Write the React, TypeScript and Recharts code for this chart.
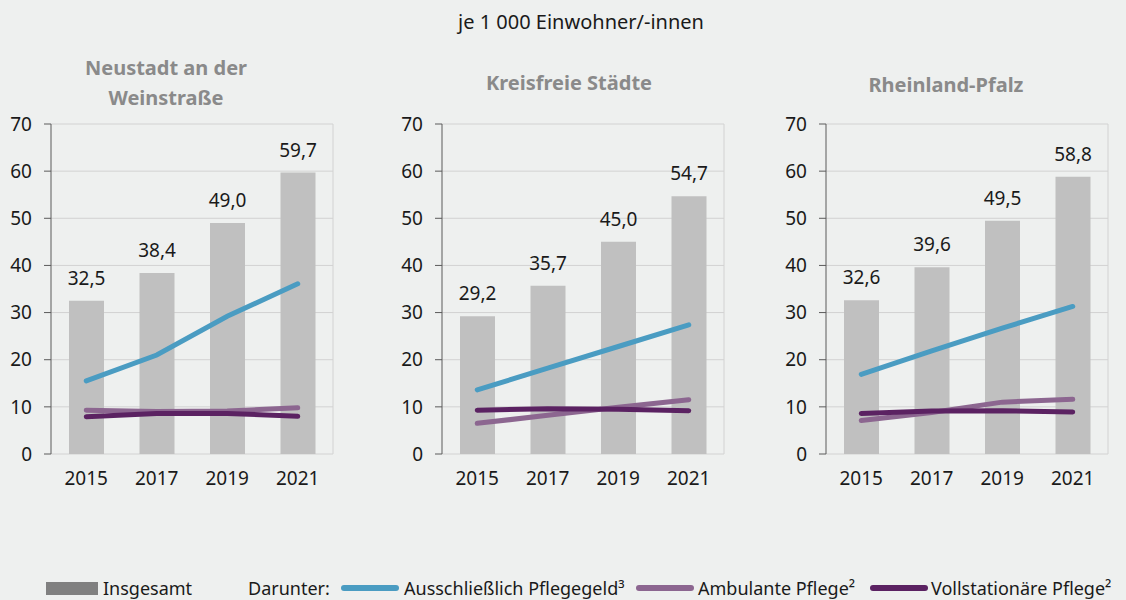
import React from "react";
import {
  Bar,
  CartesianGrid,
  ComposedChart,
  LabelList,
  Line,
  XAxis,
  YAxis,
} from "recharts";

const years = ["2015", "2017", "2019", "2021"];
const yTicks = [0, 10, 20, 30, 40, 50, 60, 70];

const neustadtTotal = [32.5, 38.4, 49.0, 59.7];
const neustadtPflegegeld = [15.5, 21.0, 29.2, 36.1];
const neustadtAmbulant = [9.3, 9.0, 9.1, 9.8];
const neustadtStationaer = [7.9, 8.6, 8.6, 8.0];

const kreisfreiTotal = [29.2, 35.7, 45.0, 54.7];
const kreisfreiPflegegeld = [13.6, 18.2, 22.8, 27.4];
const kreisfreiAmbulant = [6.5, 8.2, 9.9, 11.5];
const kreisfreiStationaer = [9.3, 9.6, 9.5, 9.2];

const rlpTotal = [32.6, 39.6, 49.5, 58.8];
const rlpPflegegeld = [16.9, 21.9, 26.7, 31.3];
const rlpAmbulant = [7.1, 8.8, 11.0, 11.6];
const rlpStationaer = [8.6, 9.1, 9.2, 8.9];

const colors = {
  bg: "#eef0ef",
  bar: "#c0c0c0",
  blue: "#4a9cc2",
  lilac: "#8c6690",
  plum: "#5b2262",
  axis: "#5a5a5a",
  grid: "#d2d2d2",
  text: "#1a1a1a",
  title: "#8a8a8a",
};

const font = "'Noto Sans', sans-serif";

type PanelProps = {
  title: string[];
  total: number[];
  pflegegeld: number[];
  ambulant: number[];
  stationaer: number[];
  left: number;
  titleCenter: number;
  titleTop: number;
};

const fmt = (v: number) => v.toFixed(1).replace(".", ",");

function Panel({ title, total, pflegegeld, ambulant, stationaer, left, titleCenter, titleTop }: PanelProps) {
  const data = years.map((year, i) => ({
    year,
    total: total[i],
    pflegegeld: pflegegeld[i],
    ambulant: ambulant[i],
    stationaer: stationaer[i],
  }));
  const tickStyle = { fontSize: 19, fill: colors.text, fontFamily: font };

  return (
    <>
      <div
        style={{
          position: "absolute",
          left: titleCenter - 150,
          width: 300,
          top: titleTop,
          textAlign: "center",
          color: colors.title,
          fontWeight: 700,
          fontSize: 20,
          lineHeight: "30px",
          fontFamily: font,
        }}
      >
        {title.map((t) => (
          <div key={t}>{t}</div>
        ))}
      </div>
      <div style={{ position: "absolute", left, top: 100 }}>
        <ComposedChart
          width={360}
          height={400}
          data={data}
          margin={{ top: 24, right: 33, bottom: 6, left: 5 }}
        >
          <CartesianGrid
            xAxisId="cat"
            stroke={colors.grid}
            verticalCoordinatesGenerator={({ offset }: any) => [offset.left + offset.width]}
          />
          <XAxis
            xAxisId="grid"
            type="number"
            domain={[0, 4]}
            ticks={[0, 1, 2, 3, 4]}
            height={0}
            tickSize={6}
            stroke={colors.axis}
            tickFormatter={() => ""}
          />
          <XAxis
            xAxisId="cat"
            dataKey="year"
            height={40}
            axisLine={false}
            tickLine={false}
            tickSize={6}
            tickMargin={12}
            tick={tickStyle}
          />
          <YAxis
            domain={[0, 70]}
            ticks={yTicks}
            width={40}
            tickSize={7}
            tickMargin={12}
            stroke={colors.axis}
            tick={tickStyle}
          />
          <Bar xAxisId="cat" dataKey="total" fill={colors.bar} barSize={35} isAnimationActive={false}>
            <LabelList
              dataKey="total"
              position="top"
              offset={16}
              formatter={(v: any) => fmt(Number(v))}
              style={{ fontSize: 19, fill: colors.text, fontFamily: font }}
            />
          </Bar>
          <Line xAxisId="cat" dataKey="pflegegeld" stroke={colors.blue} strokeWidth={5} strokeLinecap="round" dot={false} isAnimationActive={false} />
          <Line xAxisId="cat" dataKey="ambulant" stroke={colors.lilac} strokeWidth={5} strokeLinecap="round" dot={false} isAnimationActive={false} />
          <Line xAxisId="cat" dataKey="stationaer" stroke={colors.plum} strokeWidth={5} strokeLinecap="round" dot={false} isAnimationActive={false} />
        </ComposedChart>
      </div>
    </>
  );
}

function LegendLine({ color, left }: { color: string; left: number }) {
  return (
    <div
      style={{
        position: "absolute",
        left,
        top: 585,
        width: 58,
        height: 6,
        borderRadius: 3,
        background: color,
      }}
    />
  );
}

function LegendText({ text, left }: { text: React.ReactNode; left: number }) {
  return (
    <div
      style={{
        position: "absolute",
        left,
        top: 575,
        fontSize: 18,
        lineHeight: "26px",
        color: colors.text,
        fontFamily: font,
        whiteSpace: "nowrap",
      }}
    >
      {text}
    </div>
  );
}

export default function App() {
  return (
    <div
      style={{
        position: "absolute",
        left: 0,
        top: 0,
        width: 1126,
        height: 600,
        background: colors.bg,
        overflow: "hidden",
      }}
    >
      <div
        style={{
          position: "absolute",
          left: 381,
          width: 400,
          top: 7,
          textAlign: "center",
          fontSize: 20,
          lineHeight: "30px",
          color: colors.text,
          fontFamily: font,
        }}
      >
        je 1 000 Einwohner/-innen
      </div>

      <Panel
        title={["Neustadt an der", "Weinstraße"]}
        total={neustadtTotal}
        pflegegeld={neustadtPflegegeld}
        ambulant={neustadtAmbulant}
        stationaer={neustadtStationaer}
        left={6}
        titleCenter={166}
        titleTop={53}
      />
      <Panel
        title={["Kreisfreie Städte"]}
        total={kreisfreiTotal}
        pflegegeld={kreisfreiPflegegeld}
        ambulant={kreisfreiAmbulant}
        stationaer={kreisfreiStationaer}
        left={397}
        titleCenter={569}
        titleTop={68}
      />
      <Panel
        title={["Rheinland-Pfalz"]}
        total={rlpTotal}
        pflegegeld={rlpPflegegeld}
        ambulant={rlpAmbulant}
        stationaer={rlpStationaer}
        left={781}
        titleCenter={946}
        titleTop={70}
      />

      <div
        style={{
          position: "absolute",
          left: 46,
          top: 582,
          width: 52,
          height: 13,
          background: "#808080",
        }}
      />
      <LegendText text="Insgesamt" left={103} />
      <LegendText text="Darunter:" left={248} />
      <LegendLine color={colors.blue} left={341} />
      <LegendText text="Ausschließlich Pflegegeld³" left={404} />
      <LegendLine color={colors.lilac} left={636} />
      <LegendText text="Ambulante Pflege²" left={698} />
      <LegendLine color={colors.plum} left={870} />
      <LegendText text="Vollstationäre Pflege²" left={931} />
    </div>
  );
}
